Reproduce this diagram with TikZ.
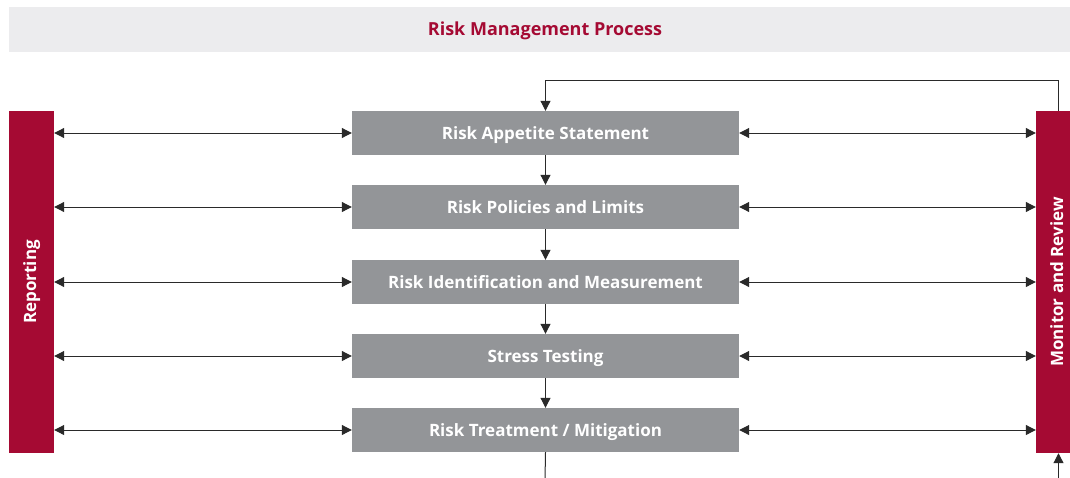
\documentclass[tikz,border=0pt]{standalone}
\usepackage{fontspec}
\setmainfont{Open Sans}
\usetikzlibrary{arrows.meta}
\definecolor{riskred}{HTML}{A50A33}
\definecolor{boxgray}{HTML}{939598}
\definecolor{bannergray}{HTML}{ECECEE}
\definecolor{linegray}{HTML}{2A2A2A}
\tikzset{
  stepbox/.style={fill=boxgray, minimum width=387pt, minimum height=44pt, inner sep=0pt,
    text height=16pt, text depth=3.4pt,
    text=white, font=\fontsize{17}{20}\selectfont\bfseries},
  sidebar/.style={fill=riskred, minimum width=45pt, minimum height=342pt, inner sep=0pt},
  sidetext/.style={text=white, font=\fontsize{17}{20}\selectfont\bfseries, rotate=90,
    text height=13pt, text depth=4pt, inner sep=0pt},
  conn/.style={draw=linegray, line width=1pt, -{Triangle[length=10pt,width=10pt]}},
  biconn/.style={draw=linegray, line width=1pt, {Triangle[length=10pt,width=10pt]}-{Triangle[length=10pt,width=10pt]}},
}
\begin{document}
\begin{tikzpicture}[x=1pt,y=-1pt]
\useasboundingbox (0,0) rectangle (1070,477);
\clip (0,0) rectangle (1070,477);
\fill[bannergray] (9,7) rectangle (1080,52);
\node[text=riskred, font=\fontsize{18}{21}\selectfont\bfseries, text height=16pt, text depth=3.6pt, inner sep=0pt] (title) at (545,29.5) {Risk Management Process};
\node[sidebar] (rep) at (31.5,282) {};
\node[sidetext] at (rep) {Reporting};
\node[sidebar] (mon) at (1058.5,282) {};
\node[sidetext] at (mon) {Monitor and Review};
\node[stepbox] (s1) at (545.5,133) {Risk Appetite Statement};
\node[stepbox] (s2) at (545.5,207) {Risk Policies and Limits};
\node[stepbox] (s3) at (545.5,282) {Risk Identification and Measurement};
\node[stepbox] (s4) at (545.5,356) {Stress Testing};
\node[stepbox] (s5) at (545.5,430) {Risk Treatment / Mitigation};
\coordinate (bot) at (545,480);
\coordinate (botr) at (1058.5,480);
\foreach \s in {s1,s2,s3,s4,s5}{
  \draw[biconn] (rep.east |- \s) -- (\s.west);
  \draw[biconn] (\s.east) -- (mon.west |- \s);
}
\draw[conn] (s1) -- (s2);
\draw[conn] (s2) -- (s3);
\draw[conn] (s3) -- (s4);
\draw[conn] (s4) -- (s5);
\draw[draw=linegray, line width=1pt] (s5.south) -- (bot);
\draw[conn] (botr) -- (mon.south);
\draw[conn] (mon.north) -- ++(0,-30) -| (s1.north);
\end{tikzpicture}
\end{document}
